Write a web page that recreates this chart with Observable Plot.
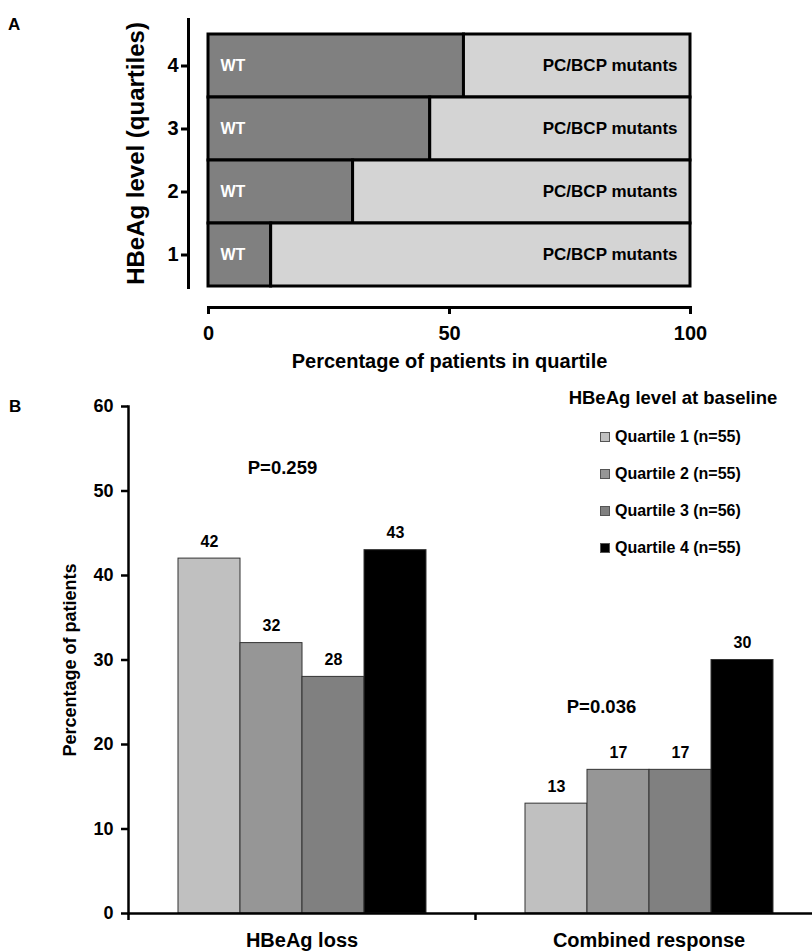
<!DOCTYPE html>
<html>
<head>
<meta charset="utf-8">
<script src="https://cdn.jsdelivr.net/npm/d3@7"></script>
<script src="https://cdn.jsdelivr.net/npm/@observablehq/plot@0.6"></script>
<style>
  body { margin: 0; background: #fff; font-family: "Liberation Sans", Arial, sans-serif; }
  #wrap { position: relative; width: 812px; height: 952px; overflow: hidden; background: #fff; }
  .abs { position: absolute; font-weight: bold; color: #000; line-height: 1; white-space: nowrap; }
  .panel { position: absolute; left: 0; }
  .sw { position: absolute; width: 8px; height: 8px; border: 1px solid #555; }
</style>
</head>
<body>
<div id="wrap"></div>
<script>
// ---------- Panel A data ----------
const quartiles = ["4", "3", "2", "1"];
const wtPercent = [53, 46, 30, 13];
const mutantPercent = [47, 54, 70, 87];
const segmentLabels = ["WT", "PC/BCP mutants"];
const segmentColors = ["#808080", "#d4d4d4"];
const xTicksA = [0, 50, 100];
const titleAx = "Percentage of patients in quartile";
const titleAy = "HBeAg level (quartiles)";

// ---------- Panel B data ----------
const groups = ["HBeAg loss", "Combined response"];
const quartileKeys = ["Q1", "Q2", "Q3", "Q4"];
const legendLabels = ["Quartile 1 (n=55)", "Quartile 2 (n=55)", "Quartile 3 (n=56)", "Quartile 4 (n=55)"];
const hbeagLoss = [42, 32, 28, 43];
const combinedResponse = [13, 17, 17, 30];
const barColors = ["#c0c0c0", "#969696", "#808080", "#000000"];
const yTicksB = [0, 10, 20, 30, 40, 50, 60];
const pLabels = ["P=0.259", "P=0.036"];
const pLevels = [52.7, 24.4];
const legendTitle = "HBeAg level at baseline";
const titleBy = "Percentage of patients";

const font = "Liberation Sans, Arial, sans-serif";
const wrap = document.getElementById("wrap");

// ---------- Panel A ----------
const dataA = [];
quartiles.forEach((q, i) => {
  dataA.push({q, type: segmentLabels[0], value: wtPercent[i]});
  dataA.push({q, type: segmentLabels[1], value: mutantPercent[i]});
});

const A = Plot.plot({
  width: 812, height: 375,
  marginLeft: 208, marginRight: 122, marginTop: 19, marginBottom: 68,
  style: {fontFamily: font, fontWeight: "bold", color: "#000", background: "transparent"},
  x: {domain: [0, 100], axis: null},
  y: {domain: quartiles, padding: 0, insetTop: 14, insetBottom: 20},
  color: {domain: segmentLabels, range: segmentColors},
  marks: [
    Plot.barX(dataA, {x: "value", y: "q", fill: "type", stroke: "#000", strokeWidth: 3}),
    Plot.text(quartiles, {y: d => d, text: () => segmentLabels[0], frameAnchor: "left", dx: 12, textAnchor: "start", fill: "#fff", fontSize: 16, fontWeight: "bold"}),
    Plot.text(quartiles, {y: d => d, text: () => segmentLabels[1], frameAnchor: "right", dx: -13, textAnchor: "end", fill: "#000", fontSize: 17, fontWeight: "bold"}),
    Plot.frame({anchor: "left", dx: -20, insetBottom: 20, strokeWidth: 3}),
    Plot.axisY({tickSize: 7, tickPadding: 3, dx: -20, strokeWidth: 3, fontSize: 20, fontWeight: "bold", label: null}),
    Plot.frame({anchor: "bottom", strokeWidth: 3}),
    Plot.axisX({ticks: xTicksA, tickSize: 7, tickPadding: 11, strokeWidth: 3, fontSize: 20, fontWeight: "bold", label: null}),
    Plot.text([titleAx], {frameAnchor: "bottom", lineAnchor: "top", dy: 46, fontSize: 20, fontWeight: "bold"}),
    Plot.text([titleAy], {frameAnchor: "left", textAnchor: "middle", rotate: -90, dx: -72, dy: -10, fontSize: 24, fontWeight: "bold"})
  ]
});
A.classList.add("panel");
A.style.top = "0px";
wrap.appendChild(A);

// ---------- Panel B ----------
const dataB = [];
groups.forEach((g, gi) => {
  const vals = gi === 0 ? hbeagLoss : combinedResponse;
  quartileKeys.forEach((q, qi) => dataB.push({group: g, q, value: vals[qi]}));
});
const pData = groups.map((g, i) => ({group: g, q: quartileKeys[1], label: pLabels[i], y: pLevels[i]}));

const widthB = 812, mLB = 128, mRB = -10;
const fxBand = (widthB - mLB - mRB) / groups.length;

const B = Plot.plot({
  width: widthB, height: 577,
  marginLeft: mLB, marginRight: mRB, marginTop: 31, marginBottom: 39,
  style: {fontFamily: font, fontWeight: "bold", color: "#000", background: "transparent"},
  fx: {domain: groups, padding: 0},
  x: {domain: quartileKeys, paddingInner: 0, paddingOuter: 0.754, axis: null},
  y: {domain: [0, 60]},
  color: {domain: quartileKeys, range: barColors},
  marks: [
    Plot.barY(dataB, {fx: "group", x: "q", y: "value", fill: "q", stroke: "#333", strokeWidth: 1}),
    Plot.text(dataB, {fx: "group", x: "q", y: "value", text: "value", dy: -17, fontSize: 16, fontWeight: "bold"}),
    Plot.text(pData.slice(0, 1), {fx: "group", x: "q", y: "y", text: "label", dx: 11, fontSize: 18.5, fontWeight: "bold"}),
    Plot.text(pData.slice(1), {fx: "group", x: "q", y: "y", text: "label", dx: -17, fontSize: 18.5, fontWeight: "bold"}),
    Plot.ruleY([0], {strokeWidth: 2.5}),
    Plot.frame({anchor: "left", facetAnchor: "left", strokeWidth: 2.5}),
    Plot.axisY({ticks: yTicksB, tickSize: 7, tickPadding: 8, strokeWidth: 2.5, fontSize: 18, fontWeight: "bold", label: null}),
    Plot.axisFx({anchor: "bottom", tickSize: 0, tickPadding: 19, fontSize: 20, fontWeight: "bold", label: null}),
    Plot.axisFx({anchor: "bottom", tickSize: 7, tickFormat: () => "", dx: -fxBand / 2, strokeWidth: 2.5, label: null}),
    Plot.text([titleBy], {frameAnchor: "left", facetAnchor: "left", textAnchor: "middle", rotate: -90, dx: -58, fontSize: 18, fontWeight: "bold"})
  ]
});
B.classList.add("panel");
B.style.top = "375px";
wrap.appendChild(B);

// ---------- Panel letters ----------
function addText(txt, left, top, size) {
  const d = document.createElement("div");
  d.className = "abs";
  d.textContent = txt;
  d.style.left = left + "px";
  d.style.top = top + "px";
  d.style.fontSize = size + "px";
  wrap.appendChild(d);
  return d;
}
addText("A", 8, 16, 17);
addText("B", 9, 398, 17);

// ---------- Legend ----------
const lt = addText(legendTitle, 563, 389, 18.5);
lt.style.width = "220px";
lt.style.textAlign = "center";
legendLabels.forEach((lab, i) => {
  const rowCenter = 437 + i * 37;
  const sw = document.createElement("div");
  sw.className = "sw";
  sw.style.left = "600px";
  sw.style.top = (rowCenter - 5) + "px";
  sw.style.background = barColors[i];
  wrap.appendChild(sw);
  addText(lab, 615, rowCenter - 8, 16);
});
</script>
</body>
</html>
